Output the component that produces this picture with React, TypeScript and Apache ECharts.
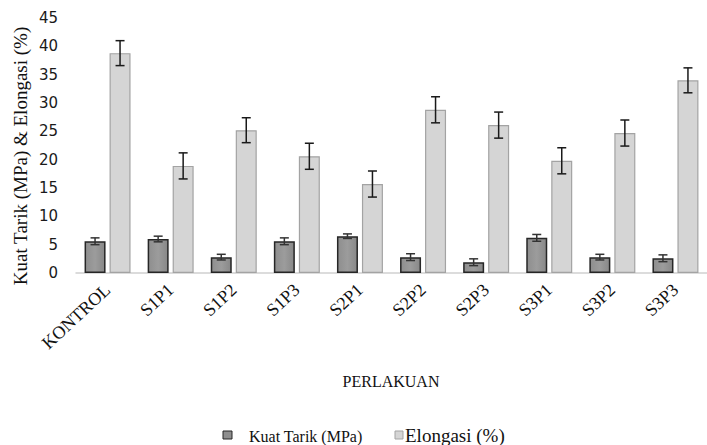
import React, { useEffect, useRef } from "react";
import * as echarts from "echarts";

const categories = ["KONTROL", "S1P1", "S1P2", "S1P3", "S2P1", "S2P2", "S2P3", "S3P1", "S3P2", "S3P3"];
const kuatTarik = [5.6, 6.0, 2.8, 5.6, 6.5, 2.8, 1.9, 6.2, 2.8, 2.6];
const kuatTarikErr = [0.6, 0.5, 0.5, 0.6, 0.4, 0.6, 0.6, 0.6, 0.5, 0.6];
const elongasi = [38.8, 18.9, 25.2, 20.6, 15.7, 28.8, 26.1, 19.8, 24.7, 34.0];
const elongasiErr = [2.2, 2.3, 2.2, 2.3, 2.3, 2.3, 2.3, 2.3, 2.3, 2.2];
const yTicks = { min: 0, max: 45, interval: 5 };

const BAR_W = 21;
const BAR_GAP = 4;

function errData(vals: number[], errs: number[]) {
  return vals.map((v, i) => [i, v + errs[i], v - errs[i]]);
}

function errRender(offset: number, color: string) {
  return (params: any, api: any) => {
    const i = api.value(0);
    const hi = api.coord([i, api.value(1)]);
    const lo = api.coord([i, api.value(2)]);
    const x = hi[0] + offset;
    const hw = 4.5;
    const style = { stroke: color, lineWidth: 1.5 };
    return {
      type: "group",
      children: [
        { type: "line", shape: { x1: x, y1: hi[1], x2: x, y2: lo[1] }, style },
        { type: "line", shape: { x1: x - hw, y1: hi[1], x2: x + hw, y2: hi[1] }, style },
        { type: "line", shape: { x1: x - hw, y1: lo[1], x2: x + hw, y2: lo[1] }, style },
      ],
    };
  };
}

export default function App() {
  const ref = useRef<HTMLDivElement>(null);
  useEffect(() => {
    if (!ref.current) return;
    const chart = echarts.init(ref.current, null, { renderer: "svg" });
    const off = (BAR_W + BAR_GAP) / 2;
    chart.setOption({
      animation: false,
      backgroundColor: "#ffffff",
      grid: { left: 76, right: -17, top: 18, bottom: 172, containLabel: false },
      xAxis: {
        type: "category",
        data: categories,
        axisLine: { lineStyle: { color: "#d0d0d0", width: 1.5 } },
        axisTick: { show: false },
        axisLabel: {
          rotate: 43,
          interval: 0,
          margin: 14,
          fontFamily: "Liberation Serif",
          fontSize: 18,
          color: "#111",
        },
      },
      yAxis: {
        type: "value",
        min: yTicks.min,
        max: yTicks.max,
        interval: yTicks.interval,
        axisLine: { show: false },
        axisTick: { show: false },
        splitLine: { show: false },
        axisLabel: { fontFamily: "DejaVu Sans", fontSize: 15, color: "#1a1a1a", margin: 18 },
      },
      series: [
        {
          name: "Kuat Tarik (MPa)",
          type: "bar",
          data: kuatTarik,
          barWidth: BAR_W,
          barGap: "19%",
          itemStyle: {
            color: new echarts.graphic.LinearGradient(0, 0, 1, 0, [
              { offset: 0, color: "#8e8e8e" },
              { offset: 0.5, color: "#9c9c9c" },
              { offset: 1, color: "#888888" },
            ]),
            borderColor: "#262626",
            borderWidth: 1.5,
          },
        },
        {
          name: "Elongasi (%)",
          type: "bar",
          data: elongasi,
          barWidth: BAR_W,
          itemStyle: {
            color: "#d5d5d5",
            borderColor: "#a3a3a3",
            borderWidth: 1.2,
          },
        },
        {
          type: "custom",
          renderItem: errRender(-off, "#333333"),
          data: errData(kuatTarik, kuatTarikErr),
          encode: { x: 0, y: [1, 2] },
          z: 5,
        },
        {
          type: "custom",
          renderItem: errRender(off, "#1a1a1a"),
          data: errData(elongasi, elongasiErr),
          encode: { x: 0, y: [1, 2] },
          z: 5,
        },
      ],
      graphic: [
        {
          type: "text",
          x: 20,
          y: 156,
          rotation: Math.PI / 2,
          style: {
            text: "Kuat Tarik (MPa) & Elongasi (%)",
            fontFamily: "Liberation Serif",
            fontSize: 19,
            fill: "#111",
            align: "center",
            verticalAlign: "middle",
          },
        },
        {
          type: "text",
          x: 391,
          y: 381,
          style: {
            text: "PERLAKUAN",
            fontFamily: "Liberation Serif",
            fontSize: 16,
            fill: "#111",
            align: "center",
            verticalAlign: "middle",
          },
        },
        {
          type: "rect",
          shape: { x: 223, y: 431, width: 9, height: 8 },
          style: { fill: "#8e8e8e", stroke: "#262626", lineWidth: 1 },
        },
        {
          type: "text",
          x: 249,
          y: 436,
          style: {
            text: "Kuat Tarik (MPa)",
            fontFamily: "Liberation Serif",
            fontSize: 16,
            fill: "#111",
            align: "left",
            verticalAlign: "middle",
          },
        },
        {
          type: "rect",
          shape: { x: 395, y: 431, width: 8, height: 8 },
          style: { fill: "#d5d5d5", stroke: "#a3a3a3", lineWidth: 1 },
        },
        {
          type: "text",
          x: 405,
          y: 435,
          style: {
            text: "Elongasi (%)",
            fontFamily: "Liberation Serif",
            fontSize: 19,
            fill: "#111",
            align: "left",
            verticalAlign: "middle",
          },
        },
      ],
    });
    return () => chart.dispose();
  }, []);
  return (
    <div
      ref={ref}
      style={{ position: "absolute", left: 0, top: 0, width: 707, height: 445 }}
    />
  );
}
